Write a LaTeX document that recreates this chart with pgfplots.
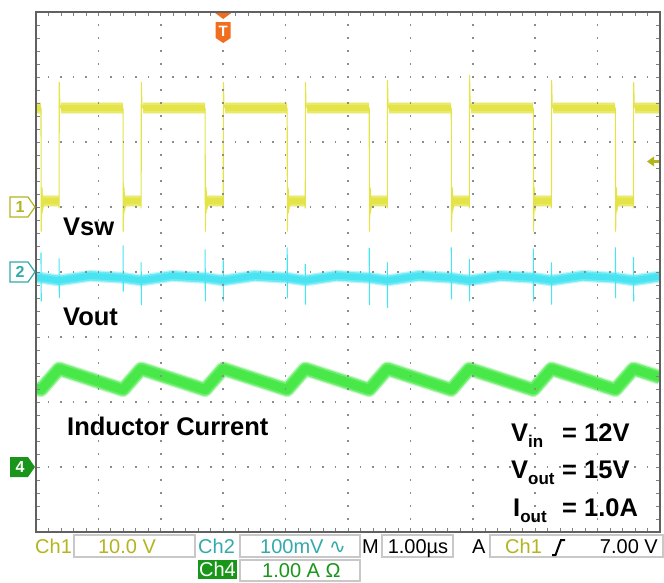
\documentclass[border=0pt]{standalone}
\usepackage{pgfplots}
\usepackage{pgfplotstable}
\pgfplotsset{compat=1.18}
\usepackage{fontspec}
\setmainfont{Liberation Sans}
\newfontfamily\dejavu{DejaVu Sans}
\definecolor{cyel}{RGB}{228,228,72}
\definecolor{ccyan}{RGB}{72,228,242}
\definecolor{cgrn}{RGB}{72,232,72}
\definecolor{olive1}{RGB}{180,180,30}
\definecolor{teal2}{RGB}{50,170,170}
\definecolor{grn4}{RGB}{25,150,25}
\definecolor{trig}{RGB}{240,110,30}
\definecolor{boxgray}{RGB}{200,200,200}

% Ch1 (Vsw), thin trace with edges and ringing, in divisions
\pgfplotstableread{
x y
0 2.52
0.080 2.52
0.084 0.62
0.095 1.30
0.110 0.98
0.130 1.09
0.365 1.09
0.370 0.98
0.373 2.92
0.382 2.58
0.400 2.52
1.395 2.52
1.399 0.62
1.410 1.30
1.425 0.98
1.445 1.09
1.680 1.09
1.685 0.98
1.688 2.92
1.697 2.58
1.715 2.52
2.710 2.52
2.714 0.62
2.725 1.30
2.740 0.98
2.760 1.09
2.995 1.09
3.000 0.98
3.003 2.92
3.012 2.58
3.030 2.52
4.025 2.52
4.029 0.62
4.040 1.30
4.055 0.98
4.075 1.09
4.310 1.09
4.315 0.98
4.318 2.92
4.327 2.58
4.345 2.52
5.340 2.52
5.344 0.62
5.355 1.30
5.370 0.98
5.390 1.09
5.625 1.09
5.630 0.98
5.633 2.95
5.642 2.58
5.660 2.52
6.655 2.52
6.659 0.62
6.670 1.30
6.685 0.98
6.705 1.09
6.940 1.09
6.945 0.98
6.948 3.03
6.957 2.58
6.975 2.52
7.970 2.52
7.974 0.62
7.985 1.30
8.000 0.98
8.020 1.09
8.255 1.09
8.260 0.98
8.263 2.95
8.272 2.58
8.290 2.52
9.285 2.52
9.289 0.62
9.300 1.30
9.315 0.98
9.335 1.09
9.570 1.09
9.575 0.98
9.578 2.92
9.587 2.58
9.605 2.52
10 2.52
}\ythin

% Ch1 noise band (flat levels)
\pgfplotstableread{
x y
0 2.52
0.080 2.52
nan nan
0.092 1.09
0.365 1.09
nan nan
0.40 2.52
1.395 2.52
nan nan
1.407 1.09
1.680 1.09
nan nan
1.715 2.52
2.710 2.52
nan nan
2.722 1.09
2.995 1.09
nan nan
3.030 2.52
4.025 2.52
nan nan
4.037 1.09
4.310 1.09
nan nan
4.345 2.52
5.340 2.52
nan nan
5.352 1.09
5.625 1.09
nan nan
5.660 2.52
6.655 2.52
nan nan
6.667 1.09
6.940 1.09
nan nan
6.975 2.52
7.970 2.52
nan nan
7.982 1.09
8.255 1.09
nan nan
8.290 2.52
9.285 2.52
nan nan
9.297 1.09
9.570 1.09
nan nan
9.605 2.52
10 2.52
}\yband

% Ch2 (Vout) ripple
\pgfplotstableread{
x y
0 -0.085
0.080 -0.09
0.370 -0.13
0.870 -0.06
1.395 -0.09
1.685 -0.13
2.185 -0.06
2.710 -0.09
3.000 -0.13
3.500 -0.06
4.025 -0.09
4.315 -0.13
4.815 -0.06
5.340 -0.09
5.630 -0.13
6.130 -0.06
6.655 -0.09
6.945 -0.13
7.445 -0.06
7.970 -0.09
8.260 -0.13
8.760 -0.06
9.285 -0.09
9.575 -0.13
10 -0.07
}\cband

% Ch2 switching spikes
\pgfplotstableread{
x y
0.080 0.30
0.084 -0.45
nan nan
0.370 0.21
0.374 -0.40
nan nan
1.395 0.41
1.399 -0.30
nan nan
1.685 0.15
1.689 -0.51
nan nan
2.710 0.35
2.714 -0.45
nan nan
3.000 0.18
3.004 -0.45
nan nan
4.025 0.38
4.029 -0.40
nan nan
4.315 0.12
4.319 -0.50
nan nan
5.340 0.37
5.344 -0.51
nan nan
5.630 0.15
5.634 -0.55
nan nan
6.655 0.38
6.659 -0.42
nan nan
6.945 0.20
6.949 -0.45
nan nan
7.970 0.36
7.974 -0.45
nan nan
8.260 0.15
8.264 -0.50
nan nan
9.285 0.38
9.289 -0.40
nan nan
9.575 0.23
9.579 -0.45
}\cspk

% Ch4 (inductor current)
\pgfplotstableread{
x y
0 -1.785
0.080 -1.81
0.370 -1.49
1.395 -1.81
1.685 -1.49
2.710 -1.81
3.000 -1.49
4.025 -1.81
4.315 -1.49
5.340 -1.81
5.630 -1.49
6.655 -1.81
6.945 -1.49
7.970 -1.81
8.260 -1.49
9.285 -1.81
9.575 -1.49
10 -1.62
}\gcur

\begin{document}
\begin{tikzpicture}
\path[use as bounding box] (0,0) rectangle (664pt,582pt);
\begin{axis}[
  at={(36pt,50pt)}, anchor=south west,
  scale only axis, width=624pt, height=520pt,
  xmin=0, xmax=10, ymin=-4, ymax=4,
  xtick={0,...,10}, ytick={-4,...,4},
  minor x tick num=4, minor y tick num=4,
  xticklabels={}, yticklabels={},
  tick align=inside, tick pos=both,
  major tick length=4pt, minor tick length=4pt,
  tick style={draw=black!50, line width=0.8pt},
  grid=major,
  major x grid style={draw=black!45, line width=1.6pt, dash pattern=on 1.6pt off 11.4pt, dash phase=0.8pt},
  major y grid style={draw=black!45, line width=1.6pt, dash pattern=on 1.6pt off 10.88pt, dash phase=0.8pt},
  axis line style={draw=black!62, line width=2.4pt},
  axis on top,
  unbounded coords=jump,
]
\addplot[draw=cyel!35, line width=12pt, forget plot] table {\yband};
\addplot[draw=cyel!80, line width=9.5pt, forget plot] table {\yband};
\addplot[draw=cyel, line width=6pt, forget plot] table {\yband};
\addplot[draw=cyel, line width=1.1pt, forget plot] table {\ythin};
\addplot[draw=ccyan!35, line width=12pt, line join=round, forget plot] table {\cband};
\addplot[draw=ccyan!80, line width=9.5pt, line join=round, forget plot] table {\cband};
\addplot[draw=ccyan, line width=6pt, line join=round, forget plot] table {\cband};
\addplot[draw=ccyan, line width=1.1pt, forget plot] table {\cspk};
\addplot[draw=cgrn!35, line width=15pt, line join=round, forget plot] table {\gcur};
\addplot[draw=cgrn!80, line width=12.5pt, line join=round, forget plot] table {\gcur};
\addplot[draw=cgrn, line width=9pt, line join=round, forget plot] table {\gcur};
\coordinate (m1) at (axis cs:0,1);
\coordinate (m2) at (axis cs:0,0);
\coordinate (m4) at (axis cs:0,-3);
\coordinate (trg) at (axis cs:3,4);
\coordinate (tl) at (axis cs:10,1.7);
\end{axis}

% channel markers
\begin{scope}[shift={(m1)}]
\draw[draw=olive1, line width=1.2pt, fill=white] (-26pt,10pt) -- (-8pt,10pt) -- (-1pt,0pt) -- (-8pt,-10pt) -- (-26pt,-10pt) -- cycle;
\node[olive1, font=\bfseries\fontsize{16}{16}\selectfont, inner sep=0pt] at (-16pt,0pt) {1};
\end{scope}
\begin{scope}[shift={(m2)}]
\draw[draw=teal2, line width=1.2pt, fill=white] (-26pt,10pt) -- (-8pt,10pt) -- (-1pt,0pt) -- (-8pt,-10pt) -- (-26pt,-10pt) -- cycle;
\node[teal2, font=\bfseries\fontsize{16}{16}\selectfont, inner sep=0pt] at (-16pt,0pt) {2};
\end{scope}
\begin{scope}[shift={(m4)}]
\fill[grn4] (-26pt,10pt) -- (-8pt,10pt) -- (-1pt,0pt) -- (-8pt,-10pt) -- (-26pt,-10pt) -- cycle;
\node[white, font=\bfseries\fontsize{16}{16}\selectfont, inner sep=0pt] at (-16pt,0pt) {4};
\end{scope}
% trigger position marker
\begin{scope}[shift={(trg)}]
\fill[trig] (-8pt,-1pt) -- (8pt,-1pt) -- (0pt,-7pt) -- cycle;
\fill[trig] (-7.5pt,-10pt) -- (7.5pt,-10pt) -- (7.5pt,-26pt) -- (0pt,-31pt) -- (-7.5pt,-26pt) -- cycle;
\node[white, font=\bfseries\fontsize{15}{15}\selectfont, inner sep=0pt] at (0pt,-19pt) {T};
\end{scope}
% trigger level marker
\begin{scope}[shift={(tl)}]
\fill[olive1] (-13pt,0pt) -- (-6pt,5pt) -- (-6pt,-5pt) -- cycle;
\fill[olive1] (-6.5pt,-1.3pt) rectangle (-1pt,1.3pt);
\end{scope}

% labels and status bar, in pixel coordinates (y downward)
\begin{scope}[shift={(0pt,582pt)}, x=1pt, y=-1pt,
  lbl/.style={font=\bfseries\fontsize{25.5}{30}\selectfont, inner sep=0pt, anchor=base west},
  sb/.style={font=\fontsize{20}{20}\selectfont, inner sep=0pt},
  bx/.style={draw=boxgray, line width=1.2pt, fill=white}]
\node[lbl] at (63,236) {Vsw};
\node[lbl] at (63,325) {Vout};
\node[lbl] at (67,435) {Inductor Current};
\node[lbl] at (511,441) {V\raisebox{-6pt}{\fontsize{17}{17}\selectfont in}};
\node[lbl] at (562,441) {= 12V};
\node[lbl] at (511,478) {V\raisebox{-6pt}{\fontsize{17}{17}\selectfont out}};
\node[lbl] at (562,478) {= 15V};
\node[lbl] at (513,516) {I\raisebox{-6pt}{\fontsize{17}{17}\selectfont out}};
\node[lbl] at (562,516) {= 1.0A};

\node[sb, anchor=base west, olive1] at (35,553) {Ch1};
\draw[bx] (74,535) rectangle (195,557);
\node[sb, anchor=base, olive1] at (127,553) {10.0 V};
\node[sb, anchor=base west, teal2] at (198,553) {Ch2};
\draw[bx] (240,535) rectangle (360,557);
\node[sb, anchor=base west, teal2] at (260,553) {100mV {\dejavu ∿}};
\node[sb, anchor=base west] at (362,553) {M};
\draw[bx] (382,535) rectangle (453,557);
\node[sb, anchor=base] at (418,553) {1.00µs};
\node[sb, anchor=base west] at (472,553) {A};
\draw[bx] (490,535) rectangle (663,557);
\node[sb, anchor=base west, olive1] at (505,553) {Ch1};
\draw[line width=2pt] (552,555) -- (555.5,555) -- (561,540) -- (565,540);
\node[sb, anchor=base east] at (658,553) {7.00 V};
\fill[grn4] (198,560) rectangle (237,579);
\node[sb, anchor=base, white] at (217.5,576) {Ch4};
\draw[bx] (240,560) rectangle (360,581);
\node[sb, anchor=base west, grn4] at (262,577) {1.00 A Ω};
\end{scope}
\end{tikzpicture}
\end{document}
